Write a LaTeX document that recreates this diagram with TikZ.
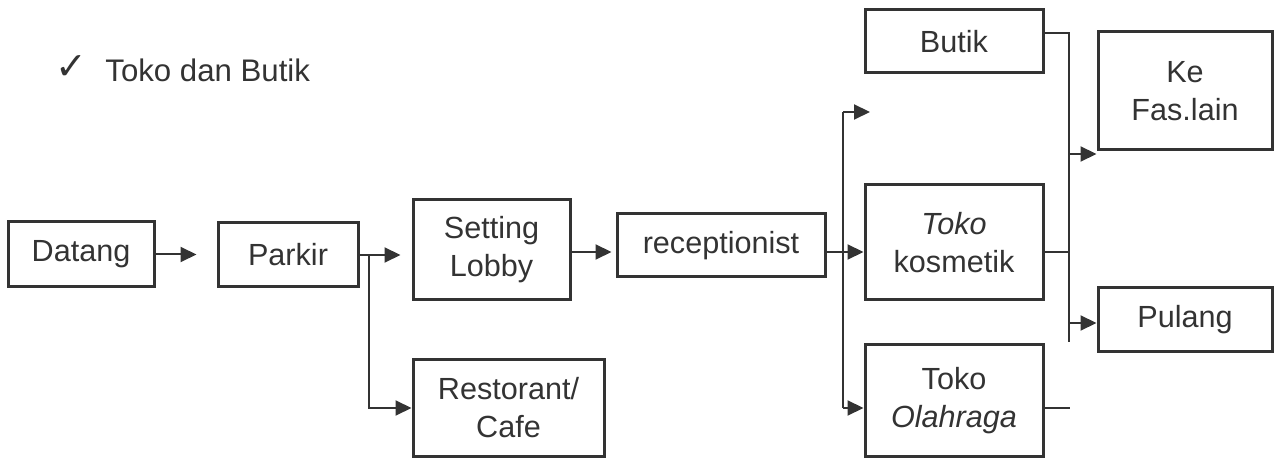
\documentclass[tikz,border=0pt]{standalone}
\usepackage{fontspec}
\setmainfont{Liberation Sans}
\newfontfamily\symfont{DejaVu Sans}
\usetikzlibrary{arrows.meta}
\definecolor{ink}{HTML}{333333}

\begin{document}
\begin{tikzpicture}[x=0.5pt,y=-0.5pt,
  box/.style={draw=ink, line width=1.5pt, align=center, inner sep=0pt,
    text=ink, font=\fontsize{15.3}{19}\selectfont},
  sz/.style 2 args={minimum width=#1*0.5pt, minimum height=#2*0.5pt},
  link/.style={draw=ink, line width=1pt},
  arr/.style={link, -{Triangle[length=8pt,width=7.5pt]}},
]
\useasboundingbox (0,0) rectangle (1284,459);

% heading
\node[text=ink, inner sep=0pt, font=\symfont\fontsize{19}{19}\selectfont] (check) at (71,68) {✓};
\node[anchor=base west, inner sep=0pt, text=ink, font=\fontsize{15.6}{19}\selectfont] (title) at (105,82) {Toko dan Butik};

% boxes
\node[box, sz={146}{65}]  (datang)   at (81,254.5)   {Datang};
\node[box, sz={140}{64}]  (parkir)   at (288,255)    {Parkir};
\node[box, sz={157}{100}] (lobby)    at (491.5,250)  {Setting\\Lobby};
\node[box, sz={191}{96}]  (resto)    at (508.5,408)  {Restorant/\\Cafe};
\node[box, sz={208}{63}]  (recep)    at (721,245.5)  {receptionist};
\node[box, sz={178}{63}]  (butik)    at (954,41.5)   {Butik};
\node[box, sz={178}{115}] (kosmetik) at (954,242.5)  {{\itshape Toko}\\kosmetik};
\node[box, sz={178}{111}] (olahraga) at (954,400.5)  {Toko\\{\itshape Olahraga}};
\node[box, sz={174}{118}] (kefas)    at (1185,91)    {Ke\\Fas.lain};
\node[box, sz={174}{64}]  (pulang)   at (1185,320)   {Pulang};

% junction points
\coordinate (pj) at (369,255);
\coordinate (rj) at (843,252);
\coordinate (rt) at (843,112);
\coordinate (rtip) at (870,112);
\coordinate (rb) at (843,408);
\coordinate (qt) at (1069,33);
\coordinate (qk) at (1069,252);
\coordinate (qf) at (1069,154);
\coordinate (qp) at (1069,323);
\coordinate (qb) at (1069,342);
\coordinate (oe) at (1070,408);

% left flow
\draw[arr, shorten >=10pt] (datang.east) -- (datang.east -| parkir.west);
\draw[arr, shorten >=5.5pt] (parkir.east) -- (parkir.east -| lobby.west);
\draw[arr] (pj) |- (resto.west);
\draw[arr, shorten >=2pt] (lobby.east |- rj) -- (rj -| recep.west);

% receptionist split
\draw[link] (recep.east |- rj) -- (rj);
\draw[link] (rt) -- (rb);
\draw[arr] (rt) -- (rtip);
\draw[arr] (rj) -- (rj -| kosmetik.west);
\draw[arr] (rb) -- (rb -| olahraga.west);

% shops to exits
\draw[link] (butik.east |- qt) -- (qt) -- (qb);
\draw[link] (kosmetik.east |- qk) -- (qk);
\draw[link] (olahraga.east |- oe) -- (oe);
\draw[arr] (qf) -- (qf -| kefas.west);
\draw[arr] (qp) -- (qp -| pulang.west);
\end{tikzpicture}
\end{document}
